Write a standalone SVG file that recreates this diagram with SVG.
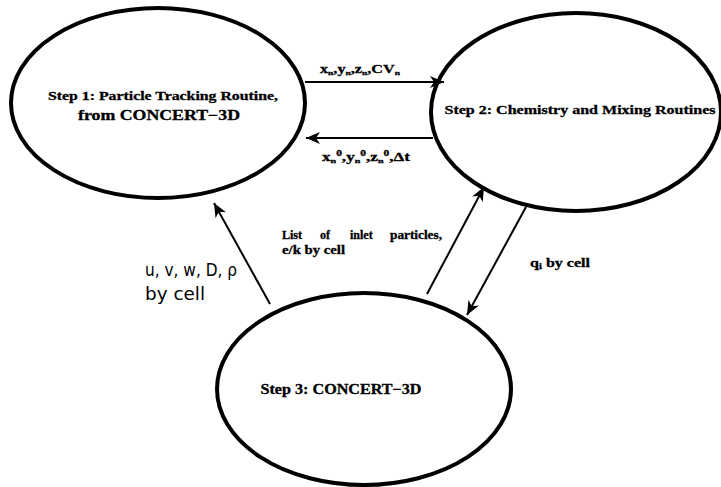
<svg xmlns="http://www.w3.org/2000/svg" width="721" height="487" viewBox="0 0 721 487">
<defs>
<style>
.node{fill:#fff;stroke:#000;stroke-width:4}
.t{font-family:"Liberation Serif","Times New Roman",serif;font-weight:bold;fill:#000;stroke:#000;stroke-width:0.3}
.lbl{font-family:"Liberation Serif","Times New Roman",serif;font-weight:bold;fill:#000;font-size:12px;stroke:#000;stroke-width:0.3}
.hand{font-family:"DejaVu Sans","Liberation Sans",sans-serif;fill:#000;font-size:17px}
.conn{stroke:#000;stroke-width:2;fill:none;marker-end:url(#ah)}
</style>
<marker id="ah" markerUnits="userSpaceOnUse" markerWidth="16" markerHeight="12" refX="14" refY="6" orient="auto">
<path d="M0,0 L14,6 L0,12 L4,6 Z" fill="#000"/>
</marker>
</defs>
<rect width="721" height="487" fill="#fff"/>
<g id="step1">
<ellipse class="node" cx="158" cy="103" rx="147" ry="95"/>
<text class="t" font-size="13" x="163" y="100" text-anchor="middle" textLength="230" lengthAdjust="spacingAndGlyphs">Step 1: Particle Tracking Routine,</text>
<text class="t" font-size="14" x="159" y="120" text-anchor="middle" textLength="162" lengthAdjust="spacingAndGlyphs">from CONCERT−3D</text>
</g>
<g id="step2">
<ellipse class="node" cx="576" cy="112" rx="145" ry="99"/>
<text class="t" font-size="13" x="580" y="114" text-anchor="middle" textLength="271" lengthAdjust="spacingAndGlyphs">Step 2: Chemistry and Mixing Routines</text>
</g>
<g id="step3">
<ellipse class="node" cx="364" cy="389" rx="147" ry="96"/>
<text class="t" font-size="14" x="341" y="394" text-anchor="middle" textLength="161" lengthAdjust="spacingAndGlyphs">Step 3: CONCERT−3D</text>
</g>
<g id="connectors">
<line class="conn" x1="305" y1="82" x2="444" y2="82"/>
<line class="conn" x1="433" y1="138" x2="306" y2="138"/>
<line class="conn" x1="270" y1="304" x2="214" y2="203"/>
<line class="conn" x1="427" y1="294" x2="484" y2="187"/>
<line class="conn" x1="526" y1="207" x2="467" y2="315"/>
<text class="lbl" x="320" y="73" font-size="10" textLength="80" lengthAdjust="spacingAndGlyphs">x<tspan font-size="7" dy="2">n</tspan><tspan dy="-2">,y</tspan><tspan font-size="7" dy="2">n</tspan><tspan dy="-2">,z</tspan><tspan font-size="7" dy="2">n</tspan><tspan dy="-2">,CV</tspan><tspan font-size="7" dy="2">n</tspan></text>
<text class="lbl" x="322" y="161" font-size="11" textLength="88" lengthAdjust="spacingAndGlyphs">x<tspan font-size="7" dy="2">n</tspan><tspan font-size="8" dy="-7">0</tspan><tspan dy="5">,y</tspan><tspan font-size="7" dy="2">n</tspan><tspan font-size="8" dy="-7">0</tspan><tspan dy="5">,z</tspan><tspan font-size="7" dy="2">n</tspan><tspan font-size="8" dy="-7">0</tspan><tspan dy="5">,Δt</tspan></text>
<text class="lbl" y="239" font-size="13"><tspan x="282">List</tspan><tspan x="320">of</tspan><tspan x="350">inlet</tspan><tspan x="390" textLength="52" lengthAdjust="spacingAndGlyphs">particles,</tspan></text>
<text class="lbl" x="282" y="254" font-size="13" textLength="63" lengthAdjust="spacingAndGlyphs">e/k by cell</text>
<text class="lbl" x="530" y="267" font-size="13" textLength="60" lengthAdjust="spacingAndGlyphs">q<tspan font-size="8" dy="2">i</tspan><tspan dy="-2"> by cell</tspan></text>
<text class="hand" x="145" y="276" textLength="92" lengthAdjust="spacingAndGlyphs">u, v, w, D, ρ</text>
<text class="hand" x="145" y="300" textLength="60" lengthAdjust="spacingAndGlyphs">by cell</text>
</g>
</svg>
